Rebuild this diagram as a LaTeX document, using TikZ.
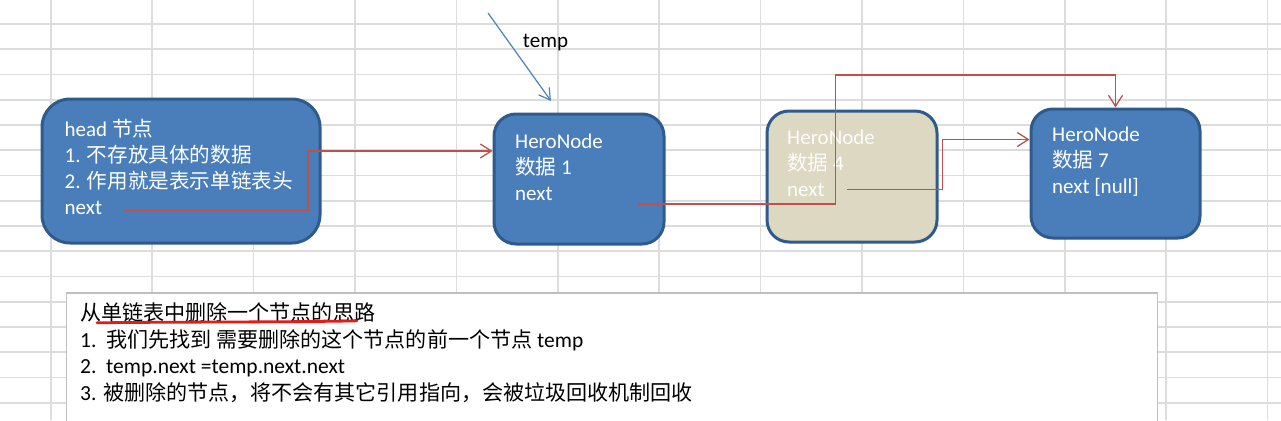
\documentclass[tikz,border=0pt]{standalone}
\usepackage{fontspec}
\setmainfont{Carlito}
\newfontfamily\cjk{Noto Sans CJK SC}[Scale=0.98]
\usepackage{xcolor}
\usetikzlibrary{arrows.meta}

\definecolor{boxblue}{HTML}{4A7EBB}
\definecolor{boxrim}{HTML}{2F5B8C}
\definecolor{boxtan}{HTML}{DDD8C2}
\definecolor{linkred}{HTML}{C0504D}
\definecolor{ptrblue}{HTML}{4F81BD}
\definecolor{gridgray}{HTML}{DCDCDC}
\definecolor{notegray}{HTML}{BFBFBF}
\definecolor{markred}{HTML}{E41B17}

\begin{document}
\begin{tikzpicture}[x=1pt, y=-1pt,
  gridline/.style={gridgray, line width=1.6pt},
  databox/.style={draw=boxrim, line width=3pt, fill=boxblue, rounded corners=22pt, inner sep=0pt},
  txt/.style={anchor=north west, inner sep=0pt, align=left, text=white,
    font=\fontsize{21}{26}\selectfont},
  link/.style={linkred, line width=1.3pt, -{Straight Barb[length=11pt, width=14pt]}},
  ptr/.style={ptrblue, line width=1.2pt, -{Straight Barb[length=11pt, width=13pt]}},
  notebox/.style={draw=notegray, line width=1.2pt, fill=white, anchor=north west, inner sep=0pt},
  notetxt/.style={anchor=north west, inner sep=0pt, align=left,
    font=\fontsize{21.5}{26.6}\selectfont}]
\useasboundingbox (0,0) rectangle (1281,420);
\clip (0,0) rectangle (1281,420);
\fill[white] (0,0) rectangle (1281,420);
% ---- spreadsheet grid ----
\foreach \gx in {0,...,12}
  \draw[gridline] ({50.7+101.4*\gx},0) -- ++(0,420);
\foreach \gy in {0,...,15}
  \draw[gridline] (0,{24+25.25*\gy}) -- ++(1281,0);
% ---- list nodes ----
\node[databox, minimum width=278pt, minimum height=144pt, rounded corners=28pt] (head) at (181,171) {};
\node[databox, minimum width=170pt, minimum height=130pt] (n1) at (579,179) {};
\node[databox, fill=boxtan, minimum width=170pt, minimum height=131pt] (n4) at (852,176.5) {};
\node[databox, minimum width=169pt, minimum height=129pt] (n7) at (1115.5,173.5) {};
\node[txt] (headtxt) at (64.5,119)
  {head {\cjk 节点}\\1. {\cjk 不存放具体的数据}\\2. {\cjk 作用就是表示单链表头}\\next};
\node[txt] (n1txt) at (515,133.8) {HeroNode\\{\cjk 数据} 1\\next};
\node[txt, text=white!92!boxtan] (n4txt) at (787,129.8) {HeroNode\\{\cjk 数据} 4\\next};
\node[txt] (n7txt) at (1052,127.1) {HeroNode\\{\cjk 数据} 7\\next [null]};
% ---- next links ----
\coordinate (headnext) at (124,210.7);
\coordinate (headturn) at (308,151);
\coordinate (n1next) at (638,204);
\coordinate (skipturn) at (835.4,75);
\coordinate (n4next) at (847,189.5);
\coordinate (n4turn) at (942.5,139.5);
\draw[link] (headnext) -| (headturn) -- (headturn -| n1.west);
\draw[link] (n1next) -| (skipturn) -| (n7.north);
\draw[link] (n4next) -| (n4turn) -- (n4turn -| n7.west);
% ---- temp pointer ----
\coordinate (tempfrom) at (488,13);
\coordinate (tempto) at (551,101);
\draw[ptr] (tempfrom) -- (tempto);
\node[font=\fontsize{21}{26}\selectfont, inner sep=0pt] (templbl) at (545.5,43) {temp};
% ---- note below ----
\node[notebox, minimum width=1091pt, minimum height=150pt] (note) at (66,292.3) {};
\node[notetxt] (notetext) at (80,302.5)
  {{\cjk 从单链表中删除一个节点的思路}\\
   1.\ \ {\cjk 我们先找到 需要删除的这个节点的前一个节点} temp\\
   2.\ \ temp.next\ =temp.next.next\\
   3. {\cjk 被删除的节点，将不会有其它引用指向，会被垃圾回收机制回收}};
\draw[markred, line width=2.8pt, line cap=round]
  (97,322.8) .. controls (180,321.8) and (300,322.2) .. (357,320.8);
\end{tikzpicture}
\end{document}
